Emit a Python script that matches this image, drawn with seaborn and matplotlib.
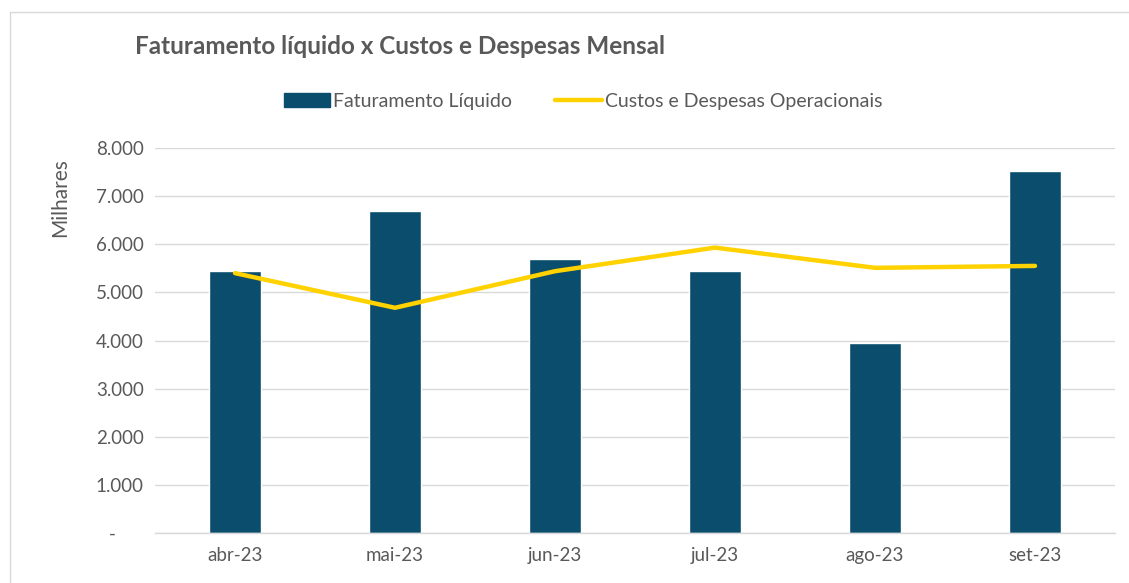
import matplotlib
matplotlib.use('Agg')
import matplotlib.pyplot as plt
import matplotlib.patches as mpatches
import matplotlib.lines as mlines
from matplotlib.ticker import FuncFormatter, MultipleLocator
import seaborn as sns
import pandas as pd

# dados (em milhares)
meses = ['abr-23', 'mai-23', 'jun-23', 'jul-23', 'ago-23', 'set-23']
faturamento = [5450, 6700, 5700, 5450, 3950, 7530]
custos = [5400, 4680, 5440, 5930, 5510, 5550]

cor_barra = '#0B4D6C'
cor_linha = '#FFD200'
cor_texto = '#595959'

sns.set_theme(style='white')
plt.rcParams['font.family'] = ['Lato', 'DejaVu Sans']

df = pd.DataFrame({'mes': meses, 'fat': faturamento, 'custos': custos})

fig = plt.figure(figsize=(11.29, 5.83), dpi=100)
ax = fig.add_axes([155 / 1129, 50 / 583, 960 / 1129, 385 / 583])

sns.barplot(data=df, x='mes', y='fat', color=cor_barra, width=0.32,
            saturation=1, ax=ax)
sns.lineplot(data=df, x='mes', y='custos', color=cor_linha, linewidth=3.2,
             ax=ax, sort=False)

ax.set_xlim(-0.5, len(meses) - 0.5)
ax.set_ylim(0, 8000)
ax.yaxis.set_major_locator(MultipleLocator(1000))


def fmt_milhar(v, pos):
    if v == 0:
        return '-      '
    return f'{int(v):,}'.replace(',', '.')


ax.yaxis.set_major_formatter(FuncFormatter(fmt_milhar))
ax.grid(axis='y', color='#D9D9D9', linewidth=1)
ax.set_axisbelow(True)
for s in ['top', 'right', 'left']:
    ax.spines[s].set_visible(False)
ax.spines['bottom'].set_color('#D9D9D9')
ax.spines['bottom'].set_linewidth(1)

ax.tick_params(axis='y', length=0, labelsize=13.5, labelcolor=cor_texto, pad=8)
ax.tick_params(axis='x', length=0, labelsize=13.5, labelcolor=cor_texto, pad=10)
# marcas entre categorias, estilo Excel
ax.set_xticks([i - 0.5 for i in range(len(meses) + 1)], minor=True)
ax.tick_params(axis='x', which='minor', length=5, color='#D9D9D9', width=1)

ax.set_xlabel('')
ax.set_ylabel('Milhares', fontsize=15, color=cor_texto)
ax.yaxis.set_label_coords(-0.088, 0.87)

fig.text(135 / 1129, 1 - 46 / 583, 'Faturamento líquido x Custos e Despesas Mensal',
         fontsize=17.5, fontweight='bold', color=cor_texto, va='center')

h1 = mpatches.Patch(color=cor_barra, label='Faturamento Líquido')
h2 = mlines.Line2D([], [], color=cor_linha, linewidth=3.2,
                   label='Custos e Despesas Operacionais')
fig.legend(handles=[h1, h2], loc='center', bbox_to_anchor=(583 / 1129, 1 - 101 / 583),
           ncol=2, frameon=False, fontsize=14, labelcolor=cor_texto,
           handlelength=2.4, handleheight=0.7, handletextpad=0.15, columnspacing=2.2)

# moldura do gráfico
fig.patches.append(mpatches.Rectangle((10 / 1129, -0.05), 1.1, 1 - 12 / 583 + 0.05,
                                      transform=fig.transFigure, fill=False,
                                      edgecolor='#D9D9D9', linewidth=1))

fig.savefig('out.png', dpi=100)
